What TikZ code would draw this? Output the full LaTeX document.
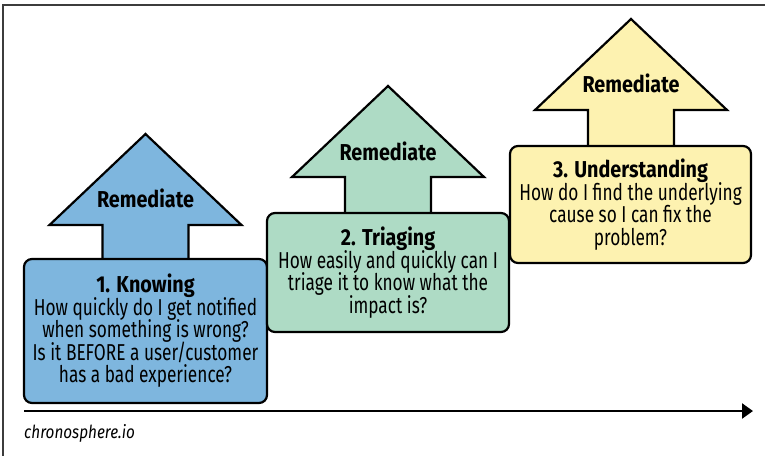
\documentclass[tikz,border=0pt]{standalone}
\usepackage{fontspec}
\setmainfont[FakeStretch=0.75, BoldFeatures={FakeStretch=0.86},
  ItalicFeatures={FakeStretch=0.85}]{Fira Sans}
\usetikzlibrary{arrows.meta}
\definecolor{knowblue}{RGB}{126,182,222}
\definecolor{triagegreen}{RGB}{174,219,197}
\definecolor{underyellow}{RGB}{253,242,176}
\definecolor{framegray}{RGB}{60,60,60}
\newcommand{\stagefont}{\fontsize{23}{22.5}\selectfont\lineskiplimit=-20pt\relax}
\tikzset{
  x=1pt, y=-1pt,
  stagebox/.style={draw=black, line width=2.2pt, rounded corners=8pt,
    align=center, font=\stagefont, inner sep=0pt},
  uparrow/.style={draw=black, line width=2.2pt, line join=miter},
  arrowlabel/.style={font=\fontsize{23}{22}\selectfont\bfseries, inner sep=0pt},
  timeline/.style={line width=2.4pt, -{Triangle[length=11pt,width=15pt]}},
}
\newcommand{\stagearrow}[4]{%
  % #1 centre x, #2 tip y, #3 box top y, #4 fill colour
  \path[uparrow, fill=#4]
    (#1,#2) -- (#1+96,#2+91) -- (#1+43,#2+91) -- (#1+43,#3+2)
    -- (#1-43,#3+2) -- (#1-43,#2+91) -- (#1-96,#2+91) -- cycle;
}
\begin{document}
\begin{tikzpicture}
\useasboundingbox (0,0) rectangle (765,456);
% frame
\draw[framegray, line width=1.3pt] (765,5) -- (3,5) -- (3,456);

% stage 1
\stagearrow{145.5}{134}{259}{knowblue}
\node[arrowlabel] (rem1) at (145.5,198) {Remediate};
\node[stagebox, fill=knowblue, minimum width=243pt, minimum height=144pt]
  (know) at (145.5,331) {\textbf{1. Knowing}\\How quickly do I get notified\\when something is wrong?\\Is it BEFORE a user/customer\\has a bad experience?};

% stage 2
\stagearrow{388}{86}{213}{triagegreen}
\node[arrowlabel] (rem2) at (388,151) {Remediate};
\node[stagebox, fill=triagegreen, minimum width=242pt, minimum height=119pt]
  (triage) at (388,272.5) {\textbf{2. Triaging}\\How easily and quickly can I\\triage it to know what the\\impact is?};

% stage 3
\stagearrow{631}{19}{146}{underyellow}
\node[arrowlabel] (rem3) at (631,83) {Remediate};
\node[stagebox, fill=underyellow, minimum width=241pt, minimum height=117pt]
  (under) at (630.5,204.5) {\textbf{3. Understanding}\\How do I find the underlying\\cause so I can fix the\\problem?};

% time axis
\coordinate (t0) at (24,411);
\coordinate (t1) at (753,411);
\draw[timeline] (t0) -- (t1);
\node[anchor=west, inner sep=0pt, font=\fontsize{18}{20}\selectfont\itshape] (brand) at (24,433) {chronosphere.io};
\end{tikzpicture}
\end{document}
